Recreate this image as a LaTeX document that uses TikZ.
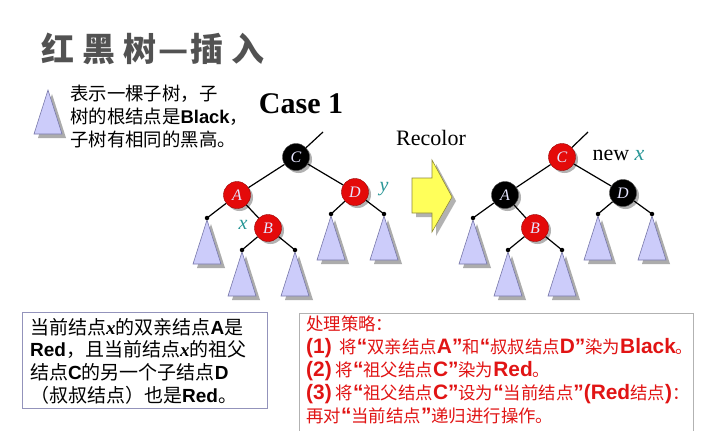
\documentclass[tikz,border=0pt]{standalone}
\usepackage{fontspec}
\setmainfont{Liberation Sans}
\newfontfamily\cjk{Noto Sans CJK SC}
\newfontfamily\tms{Liberation Serif}
\newfontfamily\latbig{Liberation Sans}[Scale=1.2]
\usetikzlibrary{shadows}
\definecolor{nodered}{RGB}{228,10,10}
\definecolor{lav}{RGB}{204,204,250}
\definecolor{lavd}{RGB}{120,120,170}
\definecolor{teal2}{RGB}{40,150,150}
\definecolor{redtxt}{RGB}{225,20,20}
\definecolor{arrowy}{RGB}{255,255,90}
\newcommand\xb{{\tms\bfseries\itshape x}}
\newcommand\lb[1]{{\rmfamily\bfseries #1}}
\newcommand\lbs[1]{{\latbig\bfseries #1}}
\newcommand\lqm{{\latbig\bfseries “}}
\newcommand\rqm{{\latbig\bfseries ”}}
\newcommand\subtr[1]{%
  \fill[gray!65] ([xshift=4pt,yshift=-4pt]#1) ++(0,2) -- ++(-14,44) -- ++(28,0) -- cycle;
  \filldraw[fill=lav, draw=lavd, line width=0.6pt] (#1) ++(0,2) -- ++(-14,44) -- ++(28,0) -- cycle;}
\tikzset{
  tn/.style={circle, minimum size=27pt, inner sep=0pt, draw=black!70,
    font=\tms\itshape\fontsize{16}{16}\selectfont, text=white!90!blue,
    drop shadow={shadow xshift=2.5pt, shadow yshift=-2.5pt, fill=gray!60, opacity=1}},
  rn/.style={tn, fill=nodered, draw=red!60!black},
  bn/.style={tn, fill=black},
  dot/.style={circle, fill=black, inner sep=0pt, minimum size=4.5pt},
  edge/.style={line width=1.2pt},
  lbl/.style={font=\tms\itshape\fontsize{20}{20}\selectfont, text=teal2},
  body/.style={font=\cjk\fontsize{18.4}{22.7}\selectfont, align=left, inner sep=0pt},
}
\begin{document}
\begin{tikzpicture}[x=1pt,y=-1pt]
\useasboundingbox (0,0) rectangle (707,431);
\fill[white] (0,0) rectangle (707,431);
% title
\node[font=\cjk\bfseries\fontsize{33}{33}\selectfont, text=black!68, anchor=west] (title) at (38,49)
  {红\hspace{8pt}黑\hspace{8pt}树\hspace{2pt}—\hspace{2pt}插\hspace{8pt}入};
% legend
\coordinate (lg) at (48,88);
\subtr{lg}
\node[body, anchor=north west] (legend) at (70,85)
  {表示一棵子树，子\\树的根结点是\lb{Black}，\\子树有相同的黑高。};
\node[font=\tms\bfseries\fontsize{30}{30}\selectfont, anchor=center] (case) at (301,104) {Case 1};
% ---------- tree 1
\coordinate (c1top) at (323,132);
\coordinate (a1l) at (207,218);
\coordinate (b1l) at (242,250);
\coordinate (b1r) at (295,250);
\coordinate (d1l) at (331,214);
\coordinate (d1r) at (384,214);
\foreach \p in {a1l,b1l,b1r,d1l,d1r} {\subtr{\p}}
\node[dot] (A1l) at (a1l) {};
\node[dot] (B1l) at (b1l) {};
\node[dot] (B1r) at (b1r) {};
\node[dot] (D1l) at (d1l) {};
\node[dot] (D1r) at (d1r) {};
\node[bn] (C1) at (296,157) {C};
\node[rn] (A1) at (237,195) {A};
\node[rn] (D1) at (355,192) {D};
\node[rn] (B1) at (268,228) {B};
\draw[edge] (C1) -- (c1top);
\draw[edge] (C1) -- (A1);
\draw[edge] (C1) -- (D1);
\draw[edge] (A1) -- (A1l.center);
\draw[edge] (A1) -- (B1);
\draw[edge] (B1) -- (B1l.center);
\draw[edge] (B1) -- (B1r.center);
\draw[edge] (D1) -- (D1l.center);
\draw[edge] (D1) -- (D1r.center);
\node[lbl] (y1) at (384,189) {y};
\node[lbl] (x1) at (243,225) {x};
% ---------- arrow
\fill[gray!60] (416,182) -- (436,182) -- (436,164) -- (456,201) -- (436,236) -- (436,217) -- (416,217) -- cycle;
\filldraw[fill=arrowy, draw=olive!60!gray, line width=0.6pt] (412,178) -- (432,178) -- (432,160) -- (452,197) -- (432,232) -- (432,213) -- (412,213) -- cycle;
\node[font=\tms\fontsize{22}{22}\selectfont] (recolor) at (431,138) {Recolor};
% ---------- tree 2
\coordinate (c2top) at (588,132);
\coordinate (a2l) at (473,218);
\coordinate (b2l) at (508,250);
\coordinate (b2r) at (562,250);
\coordinate (d2l) at (598,214);
\coordinate (d2r) at (652,214);
\foreach \p in {a2l,b2l,b2r,d2l,d2r} {\subtr{\p}}
\node[dot] (A2l) at (a2l) {};
\node[dot] (B2l) at (b2l) {};
\node[dot] (B2r) at (b2r) {};
\node[dot] (D2l) at (d2l) {};
\node[dot] (D2r) at (d2r) {};
\node[rn] (C2) at (562,157) {C};
\node[bn] (A2) at (505,195) {A};
\node[bn] (D2) at (623,193) {D};
\node[rn] (B2) at (535,228) {B};
\draw[edge] (C2) -- (c2top);
\draw[edge] (C2) -- (A2);
\draw[edge] (C2) -- (D2);
\draw[edge] (A2) -- (A2l.center);
\draw[edge] (A2) -- (B2);
\draw[edge] (B2) -- (B2l.center);
\draw[edge] (B2) -- (B2r.center);
\draw[edge] (D2) -- (D2l.center);
\draw[edge] (D2) -- (D2r.center);
\node[font=\tms\fontsize{22}{22}\selectfont, anchor=west] (newx) at (589,155) {new \textcolor{teal2}{\itshape x}};
% ---------- bottom boxes
\draw[draw=lavd!80, line width=0.8pt] (22,312) rectangle (267,408);
\node[body, anchor=north west, font=\cjk\fontsize{19}{22.7}\selectfont] (cond) at (30,318)
  {当前结点\xb 的双亲结点\lb{A}是\\
   \lb{Red}，且当前结点\xb 的祖父\\
   结点\lb{C}的另一个子结点\lb{D}\\
   （叔叔结点）也是\lb{Red}。};
\draw[draw=gray!60, line width=0.8pt] (299,440) -- (299,313) -- (693,313) -- (693,440);
\node[body, text=redtxt, anchor=north west, font=\cjk\fontsize{17.4}{23}\selectfont] (strat) at (306,316)
  {处理策略：\\
   \lbs{(1)}\ \ 将\lqm 双亲结点\lbs{A}\rqm 和\lqm 叔叔结点\lbs{D}\rqm 染为\lbs{Black}。\\
   \lbs{(2)} 将\lqm 祖父结点\lbs{C}\rqm 染为\lbs{Red}。\\
   \lbs{(3)} 将\lqm 祖父结点\lbs{C}\rqm 设为\lqm 当前结点\rqm\lbs{(Red}结点\lbs{)}：\\
   再对\lqm 当前结点\rqm 递归进行操作。};
\end{tikzpicture}
\end{document}
